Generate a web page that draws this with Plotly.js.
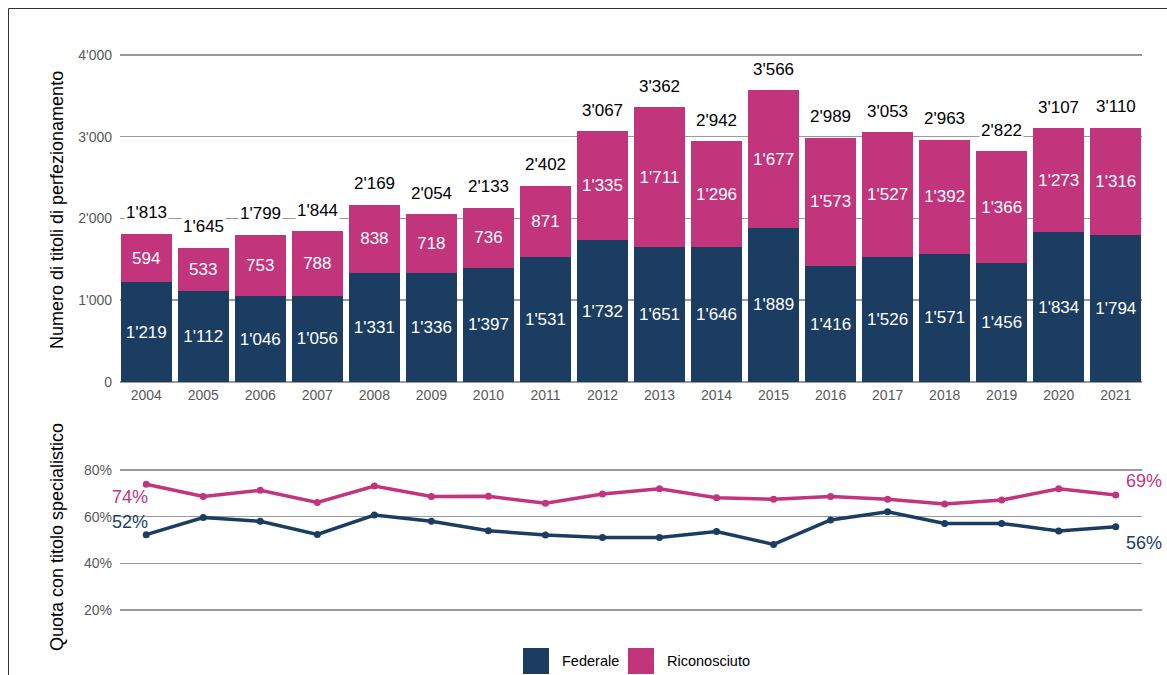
<!DOCTYPE html>
<html>
<head>
<meta charset="utf-8">
<script src="https://cdn.plot.ly/plotly-3.0.1.min.js"></script>
<style>
  html, body { margin: 0; padding: 0; background: #fff; }
  #chart { width: 1167px; height: 675px; }
</style>
</head>
<body>
<div id="chart"></div>
<script>
// ---- Data ----
const years = [2004,2005,2006,2007,2008,2009,2010,2011,2012,2013,2014,2015,2016,2017,2018,2019,2020,2021];
const federale = [1219,1112,1046,1056,1331,1336,1397,1531,1732,1651,1646,1889,1416,1526,1571,1456,1834,1794];
const riconosciuto = [594,533,753,788,838,718,736,871,1335,1711,1296,1677,1573,1527,1392,1366,1273,1316];
const quotaFederale = [52.3,59.6,58.0,52.4,60.7,58.0,54.0,52.1,51.1,51.1,53.6,48.1,58.6,62.1,57.1,57.1,53.9,55.7];
const quotaRiconosciuto = [73.9,68.6,71.3,66.1,73.1,68.6,68.7,65.7,69.7,71.9,68.1,67.4,68.6,67.4,65.4,67.1,71.9,69.3];
const barTicks = [0, 1000, 2000, 3000, 4000];
const pctTicks = [20, 40, 60, 80];
const seriesNames = ['Federale', 'Riconosciuto'];
const yTitleBars = 'Numero di titoli di perfezionamento';
const yTitleLines = 'Quota con titolo specialistico';

// ---- Styles ----
const NAVY = '#1b3d62';
const MAGENTA = '#c2347c';
const GRID = '#9a9a9a';
const TICK = '#595959';
const FONT = 'Liberation Sans, Arial, sans-serif';

const fmt = n => String(n).replace(/\B(?=(\d{3})+(?!\d))/g, "'");
const totals = federale.map((v, i) => v + riconosciuto[i]);

// pixel helpers for paper coords (plot area: x 120..1142, y 40..635)
const L = 120, R = 25, T = 40, B = 40, W = 1167, H = 675;
const pw = W - L - R, ph = H - T - B;
const px = x => (x - L) / pw;
const py = y => (H - B - y) / ph;
const xRange = [years[0] - 0.46, years[years.length - 1] + 0.46];
// bar panel: 0 at y=382px, 4000 at y=55px; range extended to 4100
const barTop = 55 - 100 * (382 - 55) / 4000;

const traces = [
  {
    type: 'bar', name: seriesNames[0], x: years, y: federale,
    marker: { color: NAVY }, text: federale.map(fmt),
    textposition: 'inside', insidetextanchor: 'middle', textangle: 0,
    constraintext: 'none',
    textfont: { color: '#ffffff', size: 17, family: FONT },
    xaxis: 'x', yaxis: 'y', showlegend: false
  },
  {
    type: 'bar', name: seriesNames[1], x: years, y: riconosciuto,
    marker: { color: MAGENTA }, text: riconosciuto.map(fmt),
    textposition: 'inside', insidetextanchor: 'middle', textangle: 0,
    constraintext: 'none',
    textfont: { color: '#ffffff', size: 17, family: FONT },
    xaxis: 'x', yaxis: 'y', showlegend: false
  },
  {
    type: 'scatter', mode: 'lines+markers', name: seriesNames[1], x: years, y: quotaRiconosciuto,
    line: { color: MAGENTA, width: 3.5 }, marker: { color: MAGENTA, size: 7 },
    xaxis: 'x2', yaxis: 'y2', showlegend: false, cliponaxis: false
  },
  {
    type: 'scatter', mode: 'lines+markers', name: seriesNames[0], x: years, y: quotaFederale,
    line: { color: NAVY, width: 3.5 }, marker: { color: NAVY, size: 7 },
    xaxis: 'x2', yaxis: 'y2', showlegend: false, cliponaxis: false
  }
];

const annotations = [];
// totals above bars
years.forEach((yr, i) => {
  annotations.push({
    xref: 'x', yref: 'y', x: yr, y: totals[i], text: fmt(totals[i]),
    showarrow: false, yanchor: 'middle', yshift: 21,
    bgcolor: '#ffffff', borderpad: 1,
    font: { family: FONT, size: 17, color: '#000000' }
  });
});
// end labels on lines
const last = years.length - 1;
annotations.push(
  { xref: 'x2', yref: 'y2', x: years[0], y: quotaRiconosciuto[0], text: Math.round(quotaRiconosciuto[0]) + '%',
    showarrow: false, xanchor: 'right', xshift: 4, yshift: -13, font: { family: FONT, size: 18, color: MAGENTA } },
  { xref: 'x2', yref: 'y2', x: years[0], y: quotaFederale[0], text: Math.round(quotaFederale[0]) + '%',
    showarrow: false, xanchor: 'right', xshift: 4, yshift: 13, font: { family: FONT, size: 18, color: NAVY } },
  { xref: 'x2', yref: 'y2', x: years[last], y: quotaRiconosciuto[last], text: Math.round(quotaRiconosciuto[last]) + '%',
    showarrow: false, xanchor: 'left', xshift: 8, yshift: 14, font: { family: FONT, size: 18, color: MAGENTA } },
  { xref: 'x2', yref: 'y2', x: years[last], y: quotaFederale[last], text: Math.round(quotaFederale[last]) + '%',
    showarrow: false, xanchor: 'left', xshift: 8, yshift: -16, font: { family: FONT, size: 18, color: NAVY } }
);
// axis titles
annotations.push(
  { xref: 'paper', yref: 'paper', x: px(57), y: py(210), text: yTitleBars, textangle: -90,
    showarrow: false, xanchor: 'center', yanchor: 'middle', font: { family: FONT, size: 18, color: '#000000' } },
  { xref: 'paper', yref: 'paper', x: px(57), y: py(537), text: yTitleLines, textangle: -90,
    showarrow: false, xanchor: 'center', yanchor: 'middle', font: { family: FONT, size: 18, color: '#000000' } }
);
// legend labels
annotations.push(
  { xref: 'paper', yref: 'paper', x: px(560), y: py(661), text: seriesNames[0], showarrow: false,
    xanchor: 'left', yanchor: 'middle', font: { family: FONT, size: 14.5, color: '#000000' } },
  { xref: 'paper', yref: 'paper', x: px(665), y: py(661), text: seriesNames[1], showarrow: false,
    xanchor: 'left', yanchor: 'middle', font: { family: FONT, size: 14.5, color: '#000000' } }
);

const shapes = [
  // frame (left and top border)
  { type: 'line', xref: 'paper', yref: 'paper', x0: px(8.5), x1: px(8.5), y0: py(8.5), y1: py(700), line: { color: '#333333', width: 1 } },
  { type: 'line', xref: 'paper', yref: 'paper', x0: px(8.5), x1: px(1200), y0: py(8.5), y1: py(8.5), line: { color: '#333333', width: 1 } },
  // legend swatches
  { type: 'rect', xref: 'paper', yref: 'paper', x0: px(523), x1: px(549), y0: py(648), y1: py(674), fillcolor: NAVY, line: { width: 0 } },
  { type: 'rect', xref: 'paper', yref: 'paper', x0: px(628), x1: px(654), y0: py(648), y1: py(674), fillcolor: MAGENTA, line: { width: 0 } }
];

const layout = {
  width: W, height: H,
  margin: { l: L, r: R, t: T, b: B, pad: 0 },
  paper_bgcolor: '#ffffff', plot_bgcolor: '#ffffff',
  separators: ".'",
  barmode: 'stack', bargap: 0.1,
  font: { family: FONT, size: 14, color: TICK },
  hovermode: false,
  showlegend: false,
  xaxis: {
    type: 'linear', domain: [0, 1], anchor: 'y', range: xRange,
    tickmode: 'array', tickvals: years, ticktext: years.map(String),
    showgrid: false, showline: false, ticks: '', zeroline: false, ticklabelstandoff: 3,
    tickfont: { family: FONT, size: 14, color: TICK }, fixedrange: true
  },
  yaxis: {
    domain: [py(382), py(barTop)], anchor: 'x', range: [0, 4100],
    tickmode: 'array', tickvals: barTicks, ticktext: barTicks.map(fmt),
    showgrid: true, gridcolor: GRID, gridwidth: 1.5, zeroline: true, zerolinecolor: GRID, zerolinewidth: 1.5,
    showline: false, ticks: '', ticklabelstandoff: 7,
    tickfont: { family: FONT, size: 14, color: TICK }, fixedrange: true
  },
  xaxis2: {
    type: 'linear', domain: [0, 1], anchor: 'y2', range: xRange,
    showgrid: false, showline: false, ticks: '', zeroline: false, showticklabels: false, fixedrange: true
  },
  yaxis2: {
    domain: [py(625), py(455)], anchor: 'x2', range: [13.6, 86.4],
    tickmode: 'array', tickvals: pctTicks, ticktext: pctTicks.map(v => v + '%'),
    showgrid: true, gridcolor: GRID, gridwidth: 1.5, zeroline: false,
    showline: false, ticks: '', ticklabelstandoff: 7,
    tickfont: { family: FONT, size: 14, color: TICK }, fixedrange: true
  },
  annotations: annotations,
  shapes: shapes
};

Plotly.newPlot('chart', traces, layout, { displayModeBar: false, staticPlot: true });
</script>
</body>
</html>
